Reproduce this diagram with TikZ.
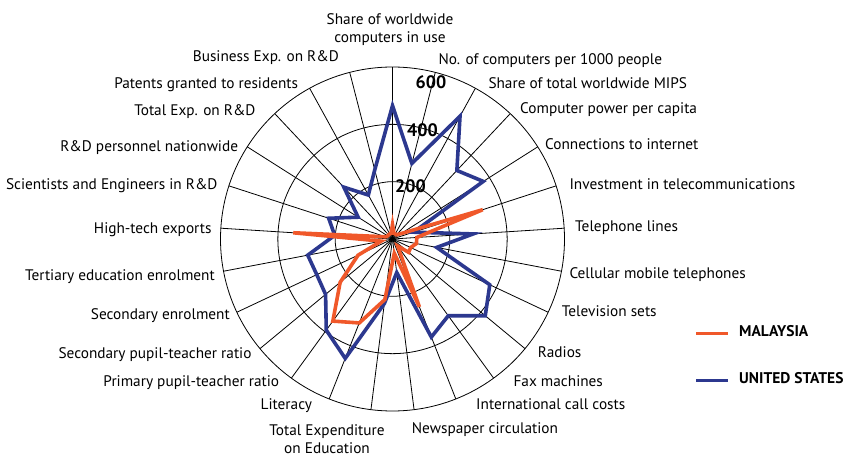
\documentclass[tikz,border=0pt]{standalone}
\usepackage{fontspec}
\setmainfont{PT Sans}
\definecolor{myred}{RGB}{240,88,42}
\definecolor{myblue}{RGB}{44,56,143}
\begin{document}
\begin{tikzpicture}[x=1pt,y=1pt,
  grid/.style={black,line width=0.8pt},
  usline/.style={myblue,line width=3.6pt},
  myline/.style={myred,line width=3.6pt},
  lbl/.style={font=\fontsize{15.3}{17}\selectfont,inner sep=0pt},
  num/.style={font=\fontsize{18}{20}\selectfont\bfseries,inner sep=0pt},
  leg/.style={font=\fontsize{15.5}{17}\selectfont\bfseries,inner sep=0pt,anchor=mid west}]
\useasboundingbox (0,0) rectangle (846,458);
\fill[white] (0,0) rectangle (846,458);
\def\s{0.28667}
\coordinate (O) at (392.5,219);
\begin{scope}[shift={(O)}]
  \foreach \r in {57.33,114.67,172} \draw[grid] (0,0) circle (\r);
  \foreach \i in {0,...,24} \draw[grid] (0,0) -- ({90-14.4*\i}:172);
  % United States
  \draw[usline] (90:{465*\s}) -- (75.6:{272*\s}) -- (61.2:{489*\s}) -- (46.8:{328*\s})
    -- (32.4:{375*\s}) -- (18:{77*\s}) -- (3.6:{282*\s}) -- (-10.8:{157*\s})
    -- (-25.2:{375*\s}) -- (-39.6:{420*\s}) -- (-54:{331*\s}) -- (-68.4:{368*\s})
    -- (-82.8:{118*\s}) -- (-97.2:{227*\s}) -- (-111.6:{448*\s}) -- (-126:{393*\s})
    -- (-140.4:{303*\s}) -- (-154.8:{292*\s}) -- (-169.2:{301*\s}) -- (176.4:{202*\s})
    -- (162:{234*\s}) -- (147.6:{142*\s}) -- (133.2:{248*\s}) -- (118.8:{175*\s})
    -- (104.4:{249*\s}) -- cycle;
  % Malaysia
  \draw[myline] (90:{50*\s}) -- (75.6:{20*\s}) -- (61.2:{20*\s}) -- (46.8:{20*\s})
    -- (32.4:{35*\s}) -- (18:{331*\s}) -- (3.6:{85*\s}) -- (-10.8:{85*\s})
    -- (-25.2:{70*\s}) -- (-39.6:{73*\s}) -- (-54:{30*\s}) -- (-68.4:{255*\s})
    -- (-82.8:{50*\s}) -- (-97.2:{213*\s}) -- (-111.6:{315*\s}) -- (-126:{354*\s})
    -- (-140.4:{237*\s}) -- (-154.8:{133*\s}) -- (-169.2:{40*\s}) -- (176.4:{347*\s})
    -- (162:{25*\s}) -- (147.6:{20*\s}) -- (133.2:{20*\s}) -- (118.8:{20*\s})
    -- (104.4:{20*\s}) -- cycle;
\end{scope}
% scale numbers
\node[num] (n600) at (431,375.3) {600};
\node[num] (n400) at (422.5,328) {400};
\node[num] (n200) at (410.5,271.3) {200};
% labels top
\node[lbl,anchor=mid] (l0a) at (390,436) {Share of worldwide};
\node[lbl,anchor=mid] (l0b) at (390,418) {computers in use};
% right labels
\node[lbl,anchor=mid west] (l1) at (438.3,395.7) {No. of computers per 1000 people};
\node[lbl,anchor=mid west] (l2) at (488.3,372.3) {Share of total worldwide MIPS};
\node[lbl,anchor=mid west] (l3) at (520,346.7) {Computer power per capita};
\node[lbl,anchor=mid west] (l4) at (545,311) {Connections to internet};
\node[lbl,anchor=mid west] (l5) at (569.3,271) {Investment in telecommunications};
\node[lbl,anchor=mid west] (l6) at (575,229) {Telephone lines};
\node[lbl,anchor=mid west] (l7) at (569.3,182.3) {Cellular mobile telephones};
\node[lbl,anchor=mid west] (l8) at (561.7,144.3) {Television sets};
\node[lbl,anchor=mid west] (l9) at (537.7,103.3) {Radios};
\node[lbl,anchor=mid west] (l10) at (513.3,74.3) {Fax machines};
\node[lbl,anchor=mid west] (l11) at (476,51) {International call costs};
\node[lbl,anchor=mid west] (l12) at (411.7,26.7) {Newspaper circulation};
% bottom
\node[lbl,anchor=mid] (l13a) at (327,25) {Total Expenditure};
\node[lbl,anchor=mid] (l13b) at (327,7.5) {on Education};
% left labels
\node[lbl,anchor=mid east] (l14) at (312.3,51) {Literacy};
\node[lbl,anchor=mid east] (l15) at (279.3,74.3) {Primary pupil-teacher ratio};
\node[lbl,anchor=mid east] (l16) at (251.7,101.7) {Secondary pupil-teacher ratio};
\node[lbl,anchor=mid east] (l17) at (230,141) {Secondary enrolment};
\node[lbl,anchor=mid east] (l18) at (215,180) {Tertiary education enrolment};
\node[lbl,anchor=mid east] (l19) at (211.7,226.7) {High-tech exports};
\node[lbl,anchor=mid east] (l20) at (217.7,271) {Scientists and Engineers in R\&D};
\node[lbl,anchor=mid east] (l21) at (238.3,309) {R\&D personnel nationwide};
\node[lbl,anchor=mid east] (l22) at (255.7,345) {Total Exp. on R\&D};
\node[lbl,anchor=mid east] (l23) at (298.3,371.7) {Patents granted to residents};
\node[lbl,anchor=mid east] (l24) at (339,399) {Business Exp. on R\&D};
% legend
\coordinate (r1) at (696,124);
\coordinate (r2) at (728,124);
\draw[myred,line width=3pt] (r1) -- (r2);
\node[leg] (lm) at (739,124) {MALAYSIA};
\coordinate (b1) at (696,77.3);
\coordinate (b2) at (728,77.3);
\draw[myblue,line width=3pt] (b1) -- (b2);
\node[leg] (lu) at (739,77.3) {UNITED STATES};
\end{tikzpicture}
\end{document}
